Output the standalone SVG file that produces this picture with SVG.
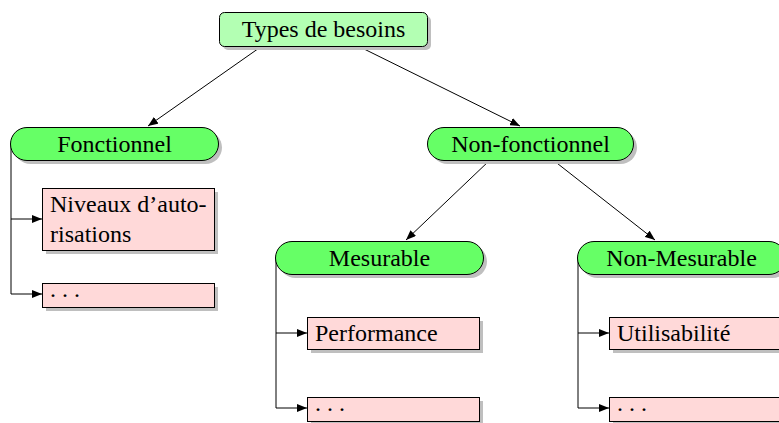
<svg xmlns="http://www.w3.org/2000/svg" width="779" height="423" viewBox="0 0 779 423">
<style>
text{font-family:"Liberation Serif","DejaVu Serif",serif;font-size:24px;fill:#000}
.sh{fill:#bfbfbf}
.top{fill:#b3ffb3;stroke:#000;stroke-width:1}
.pill{fill:#66ff66;stroke:#000;stroke-width:1}
.leaf{fill:#ffd9d9;stroke:#000;stroke-width:1}
.c{stroke:#000;stroke-width:1;fill:none;marker-end:url(#ah)}
.mid{text-anchor:middle}
</style>
<defs>
<marker id="ah" viewBox="0 0 10 8" refX="10" refY="4" markerWidth="10" markerHeight="8" markerUnits="userSpaceOnUse" orient="auto">
<path d="M0,0 L10,4 L0,8 z" fill="#000"/>
</marker>
</defs>
<g id="connectors">
<line class="c" x1="262" y1="46" x2="148" y2="126"/>
<line class="c" x1="358" y1="46" x2="520" y2="126"/>
<line class="c" x1="490" y1="160" x2="406" y2="240"/>
<line class="c" x1="553" y1="160" x2="655" y2="240"/>
<path class="c" d="M11,143 V219 H42"/>
<path class="c" d="M11,219 V294 H42"/>
<path class="c" d="M276,257 V333 H307"/>
<path class="c" d="M276,333 V408 H307"/>
<path class="c" d="M578,257 V333 H609"/>
<path class="c" d="M578,333 V408 H609"/>
</g>
<g id="n-types">
<rect class="sh" x="223" y="16" width="208" height="34" rx="5"/>
<rect class="top" x="219.5" y="12.5" width="208" height="34" rx="5"/>
<text class="mid" x="323.5" y="37">Types de besoins</text>
</g>
<g id="n-fonctionnel">
<rect class="sh" x="14" y="131" width="208" height="33" rx="16.5"/>
<rect class="pill" x="10.5" y="127.5" width="208" height="33" rx="16.5"/>
<text class="mid" x="114.5" y="152">Fonctionnel</text>
</g>
<g id="n-nonfonctionnel">
<rect class="sh" x="431" y="131" width="206" height="33" rx="16.5"/>
<rect class="pill" x="427.5" y="127.5" width="206" height="33" rx="16.5"/>
<text class="mid" x="530.5" y="152">Non-fonctionnel</text>
</g>
<g id="n-mesurable">
<rect class="sh" x="279" y="245" width="208" height="33" rx="16.5"/>
<rect class="pill" x="275.5" y="241.5" width="208" height="33" rx="16.5"/>
<text class="mid" x="379.5" y="266">Mesurable</text>
</g>
<g id="n-nonmesurable">
<rect class="sh" x="581" y="245" width="208" height="33" rx="16.5"/>
<rect class="pill" x="577.5" y="241.5" width="208" height="33" rx="16.5"/>
<text class="mid" x="681.5" y="266">Non-Mesurable</text>
</g>
<g id="n-niveaux">
<rect class="sh" x="46" y="192" width="172" height="62"/>
<rect class="leaf" x="42.5" y="188.5" width="172" height="62"/>
<text x="50" y="212">Niveaux d’auto-</text>
<text x="50" y="242">risations</text>
</g>
<g id="n-fdots">
<rect class="sh" x="46" y="287" width="172" height="24"/>
<rect class="leaf" x="42.5" y="283.5" width="172" height="24"/>
<text x="50" y="297">. . .</text>
</g>
<g id="n-performance">
<rect class="sh" x="311" y="321" width="172" height="32"/>
<rect class="leaf" x="307.5" y="317.5" width="172" height="32"/>
<text x="315" y="341">Performance</text>
</g>
<g id="n-mdots">
<rect class="sh" x="311" y="401" width="172" height="24"/>
<rect class="leaf" x="307.5" y="397.5" width="172" height="24"/>
<text x="315" y="411">. . .</text>
</g>
<g id="n-utilisabilite">
<rect class="sh" x="613" y="321" width="172" height="32"/>
<rect class="leaf" x="609.5" y="317.5" width="172" height="32"/>
<text x="617" y="341">Utilisabilité</text>
</g>
<g id="n-ndots">
<rect class="sh" x="613" y="401" width="172" height="24"/>
<rect class="leaf" x="609.5" y="397.5" width="172" height="24"/>
<text x="617" y="411">. . .</text>
</g>
</svg>
